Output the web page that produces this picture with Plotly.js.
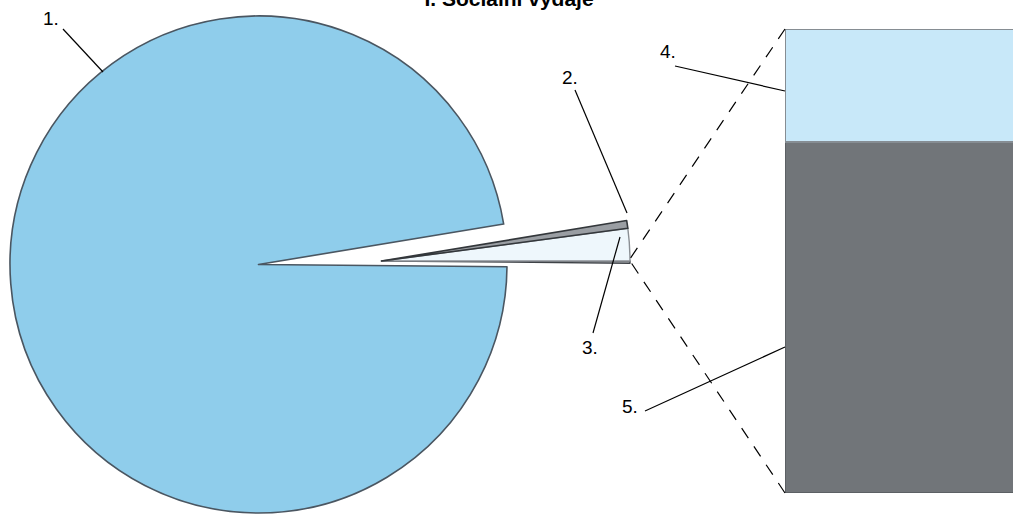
<!DOCTYPE html>
<html>
<head>
<meta charset="utf-8">
<script src="https://cdn.plot.ly/plotly-3.0.1.min.js"></script>
<style>
  html, body { margin: 0; padding: 0; background: #ffffff; }
  #chart { width: 1013px; height: 514px; }
</style>
</head>
<body>
<div id="chart"></div>
<script>
// ---- data ----
const titleText = "I. Sociální výdaje";
const sliceLabels = ["1.", "2.", "3.", "4.", "5."];
const shares = [97.26, 0.5, 2.1, 0.034, 0.106];   // % of total (4. and 5. form the small slice expanded in the bar)

// ---- geometry / styling ----
const W = 1013, H = 514;
const mainPie = { cx: 258.5, cy: 264.5, r: 248.5 };
const explPie = { cx: 381.5, cy: 261, r: 248.5 };
const barBox = { left: 785, top: 29, bottom: 493 };

function dom(p) {
  return {
    x: [(p.cx - p.r) / W, (p.cx + p.r) / W],
    y: [1 - (p.cy + p.r) / H, 1 - (p.cy - p.r) / H]
  };
}
const px = v => v / W;
const py = v => 1 - v / H;

const other = shares[3] + shares[4];
// slice order counter-clockwise from 3 o'clock: (4.+5.), 3., 2., 1.
const pieValues = [other, shares[2], shares[1], shares[0]];
const pieLabels = [sliceLabels[3] + sliceLabels[4], sliceLabels[2], sliceLabels[1], sliceLabels[0]];
const T = 'rgba(0,0,0,0)';

const traceMain = {
  type: 'pie', values: pieValues, labels: pieLabels, sort: false,
  direction: 'counterclockwise', rotation: 90, textinfo: 'none', hoverinfo: 'skip',
  domain: dom(mainPie),
  marker: { colors: [T, T, T, '#8fcdeb'],
            line: { color: [T, T, T, '#4a5661'], width: [0, 0, 0, 1.6] } },
  showlegend: false
};
const traceExpl = {
  type: 'pie', values: pieValues, labels: pieLabels, sort: false,
  direction: 'counterclockwise', rotation: 90, textinfo: 'none', hoverinfo: 'skip',
  domain: dom(explPie),
  marker: { colors: ['#c9ccd0', '#eef7fc', '#9a9ea3', T],
            line: { color: ['#3f4348', '#8a8f94', '#33373b', T], width: [1.4, 1.4, 1.6, 0] } },
  showlegend: false
};

const bar5 = { type: 'bar', x: [0], y: [shares[4]], name: sliceLabels[4], hoverinfo: 'skip',
  marker: { color: '#717579', line: { color: '#5c6064', width: 1.5 } }, width: 0.8, showlegend: false };
const bar4 = { type: 'bar', x: [0], y: [shares[3]], name: sliceLabels[3], hoverinfo: 'skip',
  marker: { color: '#c8e8f9', line: { color: '#868d93', width: 2 } }, width: 0.8, showlegend: false };

// ---- connectors (derived from the slice angles) ----
const a45 = other / shares.reduce((s, v) => s + v, 0) * 2 * Math.PI;
const tipLow = { x: explPie.cx + explPie.r, y: explPie.cy };
const tipHigh = { x: explPie.cx + explPie.r * Math.cos(a45), y: explPie.cy - explPie.r * Math.sin(a45) };

function seg(x0, y0, x1, y1, dash) {
  return { type: 'line', xref: 'paper', yref: 'paper',
    x0: px(x0), y0: py(y0), x1: px(x1), y1: py(y1),
    line: { color: '#000000', width: 1.2, dash: dash || 'solid' } };
}
const shapes = [
  seg(barBox.left, barBox.top, tipHigh.x, tipHigh.y, '12px,10px'),
  seg(barBox.left, barBox.bottom, tipLow.x, tipLow.y, '12px,10px'),
  seg(63, 29, 103, 72),
  seg(575, 90, 627, 213),
  seg(593, 333, 620, 237),
  seg(675, 66, 785, 91),
  seg(645, 411, 785, 347)
];

const labelPos = [[51, 19], [570, 77], [590, 347], [668, 52], [630, 406]];
const annotations = sliceLabels.map((t, i) => ({
  text: t, xref: 'paper', yref: 'paper', x: px(labelPos[i][0]), y: py(labelPos[i][1]),
  xanchor: 'center', yanchor: 'middle', showarrow: false,
  font: { family: 'Liberation Sans, Arial, sans-serif', size: 19, color: '#000000' }
}));

const layout = {
  width: W, height: H,
  margin: { l: 0, r: 0, t: 0, b: 0, pad: 0 },
  paper_bgcolor: '#ffffff', plot_bgcolor: 'rgba(0,0,0,0)',
  title: { text: '<b>' + titleText + '</b>', xref: 'container', yref: 'container',
           x: 509 / W, xanchor: 'center', y: 1 - 6 / H, yanchor: 'bottom',
           font: { family: 'Liberation Sans, Arial, sans-serif', size: 21, color: '#000000' } },
  barmode: 'stack',
  xaxis: { domain: [barBox.left / W, 1], range: [-0.4, 0.35], visible: false, fixedrange: true },
  yaxis: { domain: [py(barBox.bottom), py(barBox.top)], range: [0, other], visible: false, fixedrange: true },
  shapes: shapes,
  annotations: annotations,
  showlegend: false
};

Plotly.newPlot('chart', [traceMain, traceExpl, bar5, bar4], layout, { staticPlot: true, displayModeBar: false });
</script>
</body>
</html>
